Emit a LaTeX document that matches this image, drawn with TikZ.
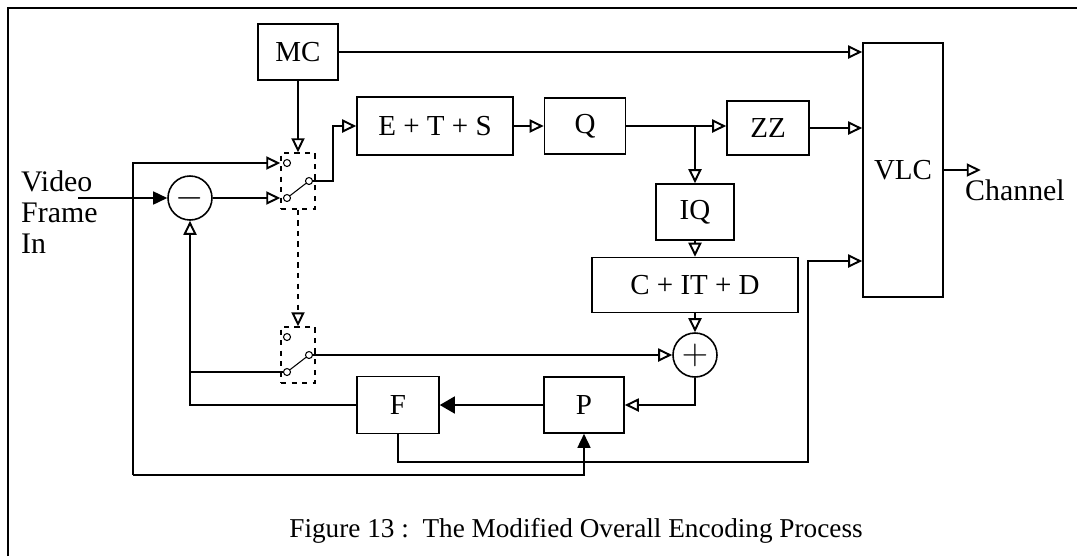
\documentclass[tikz,border=0pt]{standalone}
\usepackage{fontspec}
\setmainfont{Liberation Serif}
\usetikzlibrary{calc,arrows.meta,positioning}
\tikzset{
  blk/.style={rectangle, draw, line width=0.9pt, inner sep=0pt,
              font=\fontsize{16.5}{18}\selectfont},
  junc/.style={circle, draw, line width=0.9pt, minimum size=8.8mm, inner sep=0pt,
               font=\fontsize{21}{22}\selectfont},
  swbox/.style={rectangle, draw, dashed, line width=0.8pt,
                minimum width=6.8mm, minimum height=11.2mm, inner sep=0pt},
  contact/.style={circle, draw, line width=0.6pt, minimum size=1.4mm, inner sep=0pt},
  wire/.style={line width=0.9pt},
  arr/.style={wire, -{Triangle[open, length=2.8mm, width=2.6mm, line width=1.1pt]}},
  arrf/.style={wire, -{Triangle[length=2.8mm, width=2.6mm]}},
  arrF/.style={wire, -{Triangle[length=3mm, width=3.4mm]}},
  lbl/.style={font=\fontsize{17}{17.5}\selectfont},
}

\begin{document}
\begin{tikzpicture}[x=0.02cm, y=-0.02cm]
  \useasboundingbox (0,0) rectangle (1078,556);
  \draw[wire] (8,556) -- (8,8) -- (1077,8);

  % blocks
  \node[blk, minimum width=16mm,   minimum height=11.2mm] (MC)   at (298,52)  {MC};
  \node[blk, minimum width=31.2mm, minimum height=11.6mm] (ETS)  at (435,126) {E + T + S};
  \node[blk, minimum width=16.2mm, minimum height=11.2mm] (Q)    at (585,126) {Q};
  \node[blk, minimum width=16.4mm, minimum height=10.8mm] (ZZ)   at (768,128) {ZZ};
  \node[blk, minimum width=16mm,   minimum height=50.8mm] (VLC)  at (903,170) {VLC};
  \node[blk, minimum width=15.6mm, minimum height=11.2mm] (IQ)   at (695,212) {IQ};
  \node[blk, minimum width=41.2mm, minimum height=11mm]   (CITD) at (695,285) {C + IT + D};
  \node[junc] (plus)  at (695,355) {$+$};
  \node[junc] (minus) at (190,198) {$-$};
  \node[blk, minimum width=16mm,   minimum height=11.2mm] (P)    at (584,405) {P};
  \node[blk, minimum width=16.4mm, minimum height=11.4mm] (F)    at (398,405) {F};

  % switches
  \foreach \s/\y in {swA/181, swB/355} {
    \node[swbox] (\s) at (298,\y) {};
    \node[contact] (\s-a) at (287,\y-18) {};
    \node[contact] (\s-b) at (287,\y+17) {};
    \node[contact] (\s-c) at (309,\y) {};
    \draw[line width=0.6pt] (\s-b) -- (\s-c);
  }

  % labels
  \node[lbl, align=left, anchor=west] (vfi) at (15,212) {Video\\Frame\\In};
  \node[lbl] (chan) at (1015,190) {Channel};
  \node[font=\fontsize{15.5}{17}\selectfont] (cap) at (576,531)
    {Figure 13 :\ \ The Modified Overall Encoding Process};

  \coordinate (vin)  at (78,198);
  \coordinate (lowL) at (133,475);
  \coordinate (brQ)  at (IQ.north |- Q.east);
  \coordinate (rtB)  at (808,462);
  \coordinate (vlcC) at (808,261);

  % forward path
  \draw[arr] (MC.east) -- (MC.east -| VLC.west);
  \draw[arr] (MC.south) -- (swA.north);
  \draw[arrf] (vin) -- (minus.west);
  \draw[arr] (minus.east) -- (minus.east -| swA.west);
  \draw[arr] (swA-c) -- ++(24,0) |- (ETS.west);
  \draw[arr] (ETS) -- (Q);
  \draw[arr] (Q.east) -- (Q.east -| ZZ.west);
  \draw[arr] (ZZ.east) -- (ZZ.east -| VLC.west);
  \draw[arr] (brQ) -- (IQ.north);
  \draw[arr] (IQ) -- (CITD);
  \draw[arr] (CITD) -- (plus);
  \draw[arr] (VLC.east) -- ++(37,0);

  % feedback path
  \draw[arr] (plus.south) |- (P.east);
  \draw[arrF] (P) -- (F);
  \draw[arr] (F.west) -| (minus.south);
  \draw[wire] (minus.south |- swB-b) -- (swB-b);
  \draw[arr] (swB-c) -- (plus.west);
  \draw[arr] (lowL) |- (swA.west |- swA-a);
  \draw[arrf] (lowL) -| (P.south);
  \draw[arr] (F.south) |- (rtB) -- (vlcC) -- (vlcC -| VLC.west);
  \draw[arr, dashed] (swA.south) -- (swB.north);
\end{tikzpicture}
\end{document}
